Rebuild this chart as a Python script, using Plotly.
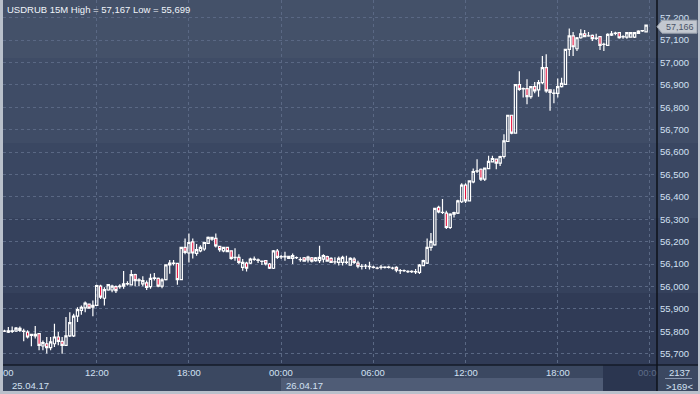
import plotly.graph_objects as go

# ---------------- data ----------------
title_text = "USDRUB 15M High = 57,167 Low = 55,699"

opens = [55.801, 55.796, 55.799, 55.801, 55.804, 55.801, 55.796, 55.781, 55.779, 55.789,
         55.734, 55.744, 55.727, 55.744, 55.774, 55.755, 55.737, 55.779, 55.779, 55.867,
         55.893, 55.904, 55.921, 55.907, 55.915, 56.001, 55.947, 55.984, 55.984, 55.999,
         55.999, 56.001, 56.011, 56.007, 56.053, 56.026, 56.011, 56.016, 55.999, 56.036,
         56.036, 56.001, 56.030, 56.096, 56.104, 56.103, 56.030, 56.174, 56.149, 56.199,
         56.147, 56.159, 56.167, 56.192, 56.211, 56.214, 56.179, 56.159, 56.174, 56.159,
         56.128, 56.130, 56.085, 56.104, 56.104, 56.122, 56.118, 56.113, 56.115, 56.100,
         56.081, 56.158, 56.133, 56.132, 56.125, 56.125, 56.129, 56.120, 56.128, 56.118,
         56.128, 56.115, 56.115, 56.122, 56.133, 56.125, 56.110, 56.107, 56.107, 56.108,
         56.095, 56.122, 56.104, 56.090, 56.090, 56.089, 56.086, 56.082, 56.085, 56.086,
         56.085, 56.082, 56.085, 56.071, 56.070, 56.067, 56.066, 56.066, 56.063, 56.093,
         56.104, 56.174, 56.185, 56.353, 56.331, 56.327, 56.263, 56.323, 56.327, 56.378,
         56.452, 56.382, 56.467, 56.514, 56.523, 56.479, 56.526, 56.556, 56.568, 56.550,
         56.580, 56.647, 56.764, 56.684, 56.901, 56.883, 56.883, 56.847, 56.892, 56.877,
         56.910, 56.977, 56.877, 56.862, 56.862, 56.892, 56.902, 57.058, 57.118, 57.061,
         57.110, 57.128, 57.118, 57.121, 57.107, 57.115, 57.081, 57.076, 57.122, 57.130,
         57.133, 57.114, 57.113, 57.113, 57.113, 57.130, 57.141, 57.136]

highs = [55.806, 55.819, 55.821, 55.819, 55.821, 55.811, 55.804, 55.789, 55.823, 55.789,
         55.759, 55.774, 55.774, 55.833, 55.796, 55.774, 55.863, 55.885, 55.878, 55.907,
         55.915, 55.933, 55.924, 55.937, 56.007, 56.007, 55.996, 56.011, 56.007, 56.004,
         56.010, 56.069, 56.023, 56.073, 56.056, 56.036, 56.045, 56.026, 56.056, 56.060,
         56.040, 56.036, 56.099, 56.118, 56.118, 56.103, 56.174, 56.214, 56.236, 56.214,
         56.189, 56.184, 56.199, 56.223, 56.221, 56.236, 56.181, 56.177, 56.177, 56.159,
         56.170, 56.144, 56.122, 56.110, 56.128, 56.133, 56.125, 56.115, 56.118, 56.104,
         56.162, 56.167, 56.140, 56.155, 56.137, 56.147, 56.134, 56.130, 56.131, 56.137,
         56.131, 56.131, 56.181, 56.144, 56.137, 56.130, 56.130, 56.133, 56.137, 56.137,
         56.130, 56.130, 56.115, 56.100, 56.100, 56.110, 56.092, 56.088, 56.095, 56.090,
         56.092, 56.088, 56.090, 56.078, 56.076, 56.072, 56.072, 56.078, 56.100, 56.119,
         56.214, 56.238, 56.348, 56.360, 56.390, 56.338, 56.327, 56.333, 56.387, 56.461,
         56.461, 56.473, 56.526, 56.568, 56.526, 56.531, 56.583, 56.583, 56.571, 56.583,
         56.679, 56.764, 56.765, 56.902, 56.960, 56.888, 56.925, 56.895, 56.913, 56.922,
         57.029, 57.036, 56.880, 56.880, 56.928, 56.932, 57.058, 57.151, 57.136, 57.113,
         57.148, 57.145, 57.136, 57.125, 57.128, 57.118, 57.088, 57.130, 57.140, 57.137,
         57.133, 57.121, 57.136, 57.136, 57.136, 57.143, 57.145, 57.167]

lows = [55.796, 55.792, 55.792, 55.796, 55.796, 55.755, 55.767, 55.733, 55.767, 55.715,
        55.715, 55.700, 55.715, 55.730, 55.737, 55.699, 55.737, 55.774, 55.774, 55.841,
        55.873, 55.885, 55.900, 55.867, 55.912, 55.944, 55.915, 55.981, 55.974, 55.971,
        55.989, 55.989, 56.004, 56.004, 56.001, 56.001, 56.001, 55.984, 55.989, 56.026,
        55.996, 55.992, 56.026, 56.056, 56.093, 56.007, 56.029, 56.144, 56.107, 56.125,
        56.137, 56.152, 56.159, 56.189, 56.204, 56.174, 56.155, 56.152, 56.152, 56.119,
        56.115, 56.100, 56.070, 56.066, 56.100, 56.115, 56.104, 56.096, 56.093, 56.078,
        56.078, 56.122, 56.122, 56.115, 56.122, 56.100, 56.122, 56.110, 56.110, 56.107,
        56.107, 56.110, 56.104, 56.107, 56.110, 56.105, 56.100, 56.093, 56.093, 56.100,
        56.093, 56.100, 56.081, 56.075, 56.078, 56.075, 56.080, 56.077, 56.075, 56.080,
        56.080, 56.076, 56.063, 56.055, 56.064, 56.060, 56.060, 56.055, 56.055, 56.090,
        56.100, 56.159, 56.182, 56.327, 56.323, 56.256, 56.256, 56.308, 56.323, 56.372,
        56.372, 56.380, 56.461, 56.506, 56.471, 56.471, 56.523, 56.553, 56.523, 56.538,
        56.571, 56.645, 56.679, 56.683, 56.873, 56.843, 56.813, 56.838, 56.862, 56.847,
        56.902, 56.865, 56.784, 56.818, 56.843, 56.888, 56.900, 57.029, 57.029, 57.051,
        57.106, 57.113, 57.115, 57.096, 57.100, 57.055, 57.051, 57.073, 57.118, 57.121,
        57.106, 57.106, 57.106, 57.110, 57.109, 57.128, 57.136, 57.136]

closes = [55.800, 55.802, 55.802, 55.814, 55.813, 55.799, 55.774, 55.786, 55.786, 55.737,
          55.749, 55.727, 55.752, 55.774, 55.755, 55.737, 55.779, 55.838, 55.867, 55.896,
          55.907, 55.925, 55.903, 55.915, 56.004, 55.952, 55.986, 56.008, 56.001, 55.981,
          56.001, 56.011, 56.013, 56.053, 56.026, 56.029, 56.026, 55.996, 56.036, 56.038,
          56.001, 56.029, 56.096, 56.104, 56.103, 56.030, 56.174, 56.152, 56.196, 56.149,
          56.164, 56.174, 56.196, 56.219, 56.219, 56.181, 56.164, 56.174, 56.155, 56.125,
          56.130, 56.107, 56.107, 56.081, 56.122, 56.121, 56.116, 56.112, 56.100, 56.081,
          56.159, 56.130, 56.132, 56.134, 56.134, 56.137, 56.128, 56.119, 56.113, 56.131,
          56.113, 56.128, 56.130, 56.137, 56.113, 56.107, 56.109, 56.125, 56.130, 56.107,
          56.125, 56.107, 56.090, 56.089, 56.091, 56.088, 56.085, 56.081, 56.086, 56.085,
          56.086, 56.081, 56.073, 56.070, 56.071, 56.066, 56.067, 56.065, 56.095, 56.115,
          56.174, 56.201, 56.348, 56.333, 56.330, 56.263, 56.323, 56.330, 56.382, 56.452,
          56.382, 56.471, 56.513, 56.516, 56.479, 56.528, 56.558, 56.571, 56.550, 56.580,
          56.650, 56.764, 56.684, 56.901, 56.880, 56.882, 56.847, 56.892, 56.873, 56.910,
          56.977, 56.873, 56.866, 56.863, 56.892, 56.907, 57.058, 57.118, 57.070, 57.110,
          57.128, 57.115, 57.119, 57.106, 57.108, 57.076, 57.080, 57.125, 57.128, 57.131,
          57.110, 57.115, 57.133, 57.133, 57.133, 57.140, 57.142, 57.166]

bar_index = list(range(len(opens)))

ytick_vals = [55.7, 55.8, 55.9, 56.0, 56.1, 56.2, 56.3, 56.4, 56.5, 56.6, 56.7, 56.8, 56.9, 57.0, 57.1, 57.2]
ytick_text = ["55,700", "55,800", "55,900", "56,000", "56,100", "56,200", "56,300", "56,400",
              "56,500", "56,600", "56,700", "56,800", "56,900", "57,000", "57,100", "57,200"]

xgrid_idx = [24, 48, 72, 96, 120, 144, 168]
xlabel_idx = [0, 24, 48, 72, 96, 120, 144, 168]
xlabel_text = ["00", "12:00", "18:00", "00:00", "06:00", "12:00", "18:00", "00:0"]
date_text = ["25.04.17", "26.04.17"]
price_tag_text = "57,166"
counter_text = ["2137", ">169<"]

# ---------------- layout geometry ----------------
W, H = 700, 394
ML, MR, MT, MB = 3, 43, 0, 29
PW, PH = W - ML - MR, H - MT - MB


def px(xpix):
    return (xpix - ML) / PW


def py(ypix):
    return 1 - (ypix - MT) / PH


FONT = "Liberation Sans, Arial, sans-serif"
LABEL_COL = "#d2e0f2"

fig = go.Figure()
fig.add_trace(go.Candlestick(
    x=bar_index, open=opens, high=highs, low=lows, close=closes,
    increasing=dict(line=dict(color="white", width=1.2), fillcolor="rgba(0,0,0,0)"),
    decreasing=dict(line=dict(color="white", width=1.2), fillcolor="#e8103c"),
    whiskerwidth=0, hoverinfo="skip", showlegend=False,
))

shapes = []
# background bands (stepped gradient) over plot + right axis panel
band_edges = [0, 58, 143, 218, 293, 365]
band_cols = ["#445169", "#3f4c66", "#3a4762", "#35415c", "#303b56"]
for k in range(len(band_cols)):
    shapes.append(dict(type="rect", xref="paper", yref="paper", layer="below",
                       x0=px(0), x1=px(W), y0=py(band_edges[k + 1]), y1=py(band_edges[k]),
                       fillcolor=band_cols[k], line=dict(width=0)))
# bottom date box and dark scroll block
shapes.append(dict(type="rect", xref="paper", yref="paper", layer="below",
                   x0=px(281), x1=px(603), y0=py(391), y1=py(378),
                   fillcolor="#4f5c76", line=dict(width=0)))
shapes.append(dict(type="rect", xref="paper", yref="paper", layer="below",
                   x0=px(603), x1=px(657), y0=py(391), y1=py(365),
                   fillcolor="#2b3650", line=dict(width=0)))
# separators
shapes.append(dict(type="line", xref="paper", yref="paper", layer="above",
                   x0=px(0), x1=px(W), y0=py(365), y1=py(365),
                   line=dict(color="#151b28", width=1.5)))
shapes.append(dict(type="line", xref="paper", yref="paper", layer="above",
                   x0=px(657), x1=px(657), y0=py(0), y1=py(391),
                   line=dict(color="#0e121a", width=1.5)))
shapes.append(dict(type="line", xref="paper", yref="paper", layer="above",
                   x0=px(665), x1=px(692), y0=py(378.5), y1=py(378.5),
                   line=dict(color="#8a98b0", width=1)))
# frame
for (a, b, c, d) in [(0, 3, 0, H), (0, W, 391, H), (698, W, 0, H)]:
    shapes.append(dict(type="rect", xref="paper", yref="paper", layer="above",
                       x0=px(a), x1=px(b), y0=py(d), y1=py(c),
                       fillcolor="#b9c0cb", line=dict(width=0)))
# price tag at last close
last = closes[-1]
hh = 6.5 / 224
yoff = -1.5 / 224
tag_path = (f"M {px(657)} {last + yoff} L {px(662)} {last + yoff + hh} L {px(697)} {last + yoff + hh} "
            f"L {px(697)} {last + yoff - hh} L {px(662)} {last + yoff - hh} Z")
shapes.append(dict(type="path", xref="paper", yref="y", layer="above", path=tag_path,
                   fillcolor="#c3c8d0", line=dict(color="#9aa2ae", width=1)))

annotations = []
annotations.append(dict(text=title_text, xref="paper", yref="paper", x=px(5), y=py(9),
                        xanchor="left", yanchor="middle", showarrow=False,
                        font=dict(family=FONT, size=9.5, color="#f0f4fa")))
for i, t in zip(xlabel_idx, xlabel_text):
    if t == "00":
        annotations.append(dict(text=t, xref="x", yref="paper", x=i, y=py(372),
                                xanchor="right", yanchor="middle", xshift=11, showarrow=False,
                                font=dict(family=FONT, size=9.5, color=LABEL_COL)))
    elif t == "00:0":
        annotations.append(dict(text=t, xref="x", yref="paper", x=i, y=py(372),
                                xanchor="center", yanchor="middle", xshift=-2, showarrow=False,
                                font=dict(family=FONT, size=9.5, color="#5e6d88")))
    else:
        annotations.append(dict(text=t, xref="x", yref="paper", x=i, y=py(372),
                                xanchor="center", yanchor="middle", showarrow=False,
                                font=dict(family=FONT, size=9.5, color=LABEL_COL)))
for xpix, t in zip([10, 284], date_text):
    annotations.append(dict(text=t, xref="paper", yref="paper", x=px(xpix), y=py(385.5),
                            xanchor="left", yanchor="middle", showarrow=False,
                            font=dict(family=FONT, size=9.5, color=LABEL_COL)))
annotations.append(dict(text=price_tag_text, xref="paper", yref="y", x=px(680), y=last,
                        yshift=-1.5, xanchor="center", yanchor="middle", showarrow=False,
                        font=dict(family=FONT, size=9, color="#4a5468")))
for ypix, t in zip([372, 386], counter_text):
    annotations.append(dict(text=t, xref="paper", yref="paper", x=px(679), y=py(ypix),
                            xanchor="center", yanchor="middle", showarrow=False,
                            font=dict(family=FONT, size=9.5, color=LABEL_COL)))

x0 = -1.5 / 3.842
fig.update_layout(
    width=W, height=H, margin=dict(l=ML, r=MR, t=MT, b=MB, pad=0),
    paper_bgcolor="#3b4861", plot_bgcolor="rgba(0,0,0,0)",
    shapes=shapes, annotations=annotations, showlegend=False,
    boxgap=0.15,
    xaxis=dict(range=[x0, x0 + PW / 3.842], tickvals=xgrid_idx, showticklabels=False,
               showgrid=True, gridcolor="#5a6884", griddash="3px,3px", gridwidth=1,
               zeroline=False, showline=False, ticks="", rangeslider=dict(visible=False),
               fixedrange=True),
    yaxis=dict(range=[55.6491, 57.2786], side="right", tickvals=ytick_vals, ticktext=ytick_text,
               showgrid=True, gridcolor="#5a6884", griddash="3px,3px", gridwidth=1,
               zeroline=False, showline=False, ticks="", ticklabelstandoff=2,
               tickfont=dict(family=FONT, size=9.5, color=LABEL_COL), fixedrange=True),
)

fig.write_html("out.html")
